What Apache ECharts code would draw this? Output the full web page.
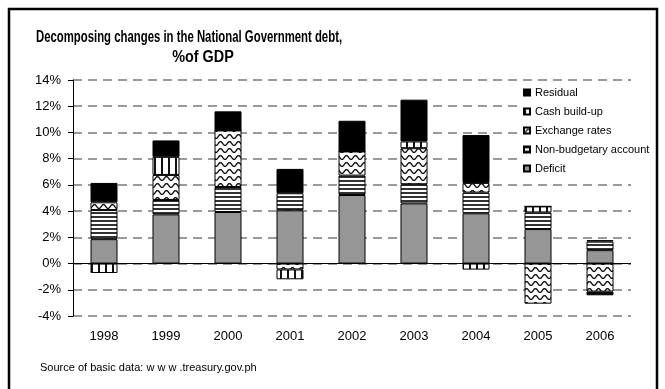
<!DOCTYPE html>
<html>
<head>
<meta charset="utf-8">
<script src="https://cdn.jsdelivr.net/npm/echarts@6/dist/echarts.min.js"></script>
<style>
html,body{margin:0;padding:0;background:#fff;}
#c{width:665px;height:389px;}
</style>
</head>
<body>
<div id="c"></div>
<script>
// ---- data ----
const years = ['1998','1999','2000','2001','2002','2003','2004','2005','2006'];
const deficit     = [1.86, 3.75, 3.93, 4.06, 5.23, 4.59, 3.83, 2.63, 1.02];
const nonBudget   = [2.22, 1.10, 1.91, 1.30, 1.48, 1.46, 1.58, 1.27, 0.65];
const exchange    = [0.59, 1.91, 4.31, -0.45, 1.84, 2.75, 0.74, -3.06, -2.14];
const cashBuildUp = [-0.72, 1.38, 0, -0.75, 0, 0.51, -0.46, 0.46, 0.12];
const residual    = [1.48, 1.25, 1.46, 1.86, 2.34, 3.19, 3.65, 0, -0.28];
const seriesNames = ['Deficit','Non-budgetary account','Exchange rates','Cash build-up','Residual'];
const legendOrder = ['Residual','Cash build-up','Exchange rates','Non-budgetary account','Deficit'];
const titleLines  = ['Decomposing changes in the National Government debt,','%of GDP'];
const sourceText  = 'Source of basic data: w w w .treasury.gov.ph';
const yMin = -4, yMax = 14, yStep = 2;

// ---- patterns ----
function hStripe(){
  const c=document.createElement('canvas');c.width=4;c.height=4;
  const g=c.getContext('2d');g.fillStyle='#fff';g.fillRect(0,0,4,4);
  g.fillStyle='#333';g.fillRect(0,0,4,2);return c;
}
function vStripe(){
  const c=document.createElement('canvas');c.width=7;c.height=4;
  const g=c.getContext('2d');g.fillStyle='#fff';g.fillRect(0,0,7,4);
  g.fillStyle='#111';g.fillRect(0,0,2,4);return c;
}
function wave(){
  const W=9,H=7;
  const c=document.createElement('canvas');c.width=W;c.height=H;
  const g=c.getContext('2d');g.fillStyle='#fff';g.fillRect(0,0,W,H);
  g.strokeStyle='#111';g.lineWidth=1.4;g.beginPath();
  for(let i=-1;i<=W*4+1;i++){
    const x=i/4;
    const y=3.5+1.9*Math.cos(2*Math.PI*x/W);
    if(i===-1) g.moveTo(x,y); else g.lineTo(x,y);
  }
  g.stroke();return c;
}
const fills = [
  '#969696',
  {image:hStripe(),repeat:'repeat'},
  {image:wave(),repeat:'repeat'},
  {image:vStripe(),repeat:'repeat'},
  '#000000'
];
const values=[deficit,nonBudget,exchange,cashBuildUp,residual];

const chart = echarts.init(document.getElementById('c'),null,{renderer:'canvas'});
const FONT='Liberation Sans, Arial, sans-serif';
const series = values.map((v,i)=>{
  const s={
    name:seriesNames[i], type:'bar', stack:'total', data:v, barWidth:27,
    itemStyle:{color:fills[i], borderColor:'#000', borderWidth:1},
    emphasis:{disabled:true}
  };
  if(i===0){
    s.markLine={silent:true,symbol:'none',label:{show:false},
      lineStyle:{color:'#000',type:'solid',width:1},data:[{yAxis:0}]};
  }
  return s;
});

chart.setOption({
  animation:false,
  backgroundColor:'#fff',
  textStyle:{fontFamily:FONT},
  grid:{left:73,right:34,top:80,bottom:73,containLabel:false},
  legend:{
    orient:'vertical', left:519, top:84, padding:[3,4,3,4],
    backgroundColor:'#fff', itemWidth:6, itemHeight:6, itemGap:8,
    data:legendOrder,
    textStyle:{fontFamily:FONT,fontSize:11,color:'#000'},
    icon:'rect', selectedMode:false
  },
  xAxis:{
    type:'category', data:years,
    axisLine:{show:false,onZero:false}, axisTick:{show:false},
    axisLabel:{fontFamily:FONT,fontSize:13,color:'#000',margin:14}
  },
  yAxis:{
    type:'value', min:yMin, max:yMax, interval:yStep,
    axisLine:{show:true,lineStyle:{color:'#000',width:1}},
    axisTick:{show:true,length:5,lineStyle:{color:'#000'}},
    axisLabel:{formatter:'{value}%',fontFamily:FONT,fontSize:13,color:'#000',margin:12},
    splitLine:{show:true,lineStyle:{color:'#7a7a7a',type:[9,6],width:1.5}}
  },
  graphic:[
    {type:'rect',shape:{x:9,y:9,width:648,height:400},
     style:{fill:'none',stroke:'#000',lineWidth:2.5},silent:true},
    {type:'text',x:189,y:38,scaleX:0.71,
     style:{text:titleLines[0],font:'bold 16px Liberation Sans, Arial, sans-serif',fill:'#000',align:'center',verticalAlign:'middle'}},
    {type:'text',x:203,y:58,scaleX:0.9,
     style:{text:titleLines[1],font:'bold 16px Liberation Sans, Arial, sans-serif',fill:'#000',align:'center',verticalAlign:'middle'}},
    {type:'text',left:40,top:362,
     style:{text:sourceText,font:'11px Liberation Sans, Arial, sans-serif',fill:'#000'}}
  ],
  series:series
});
</script>
</body>
</html>
